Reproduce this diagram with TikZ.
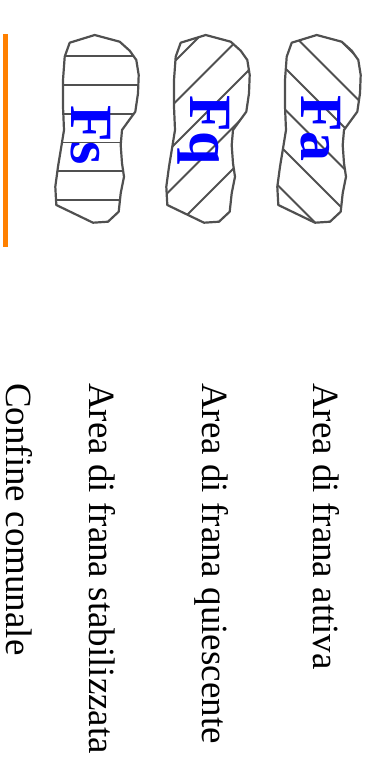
\documentclass[tikz,border=0pt]{standalone}
\usepackage{fontspec}
\setmainfont{Liberation Serif}
\usepackage{xcolor}
\definecolor{franaGray}{HTML}{505050}
\definecolor{franaBlue}{HTML}{0000FF}
\definecolor{confineOrange}{HTML}{FF8000}
% outline of one landslide symbol (the "Fa" one, others are shifted left)
\def\franapath{(291.7,42.7) -- (316.7,35) -- (341.7,41.7) -- (351.7,50.7) -- (358.3,60) -- (360.7,75) -- (360,93.3) -- (357.3,111.7) -- (350,121.7) -- (344,130) -- (342.7,145) -- (344,163.3) -- (346,176.7) -- (342.7,193.3) -- (340.7,211.7) -- (330,221.7) -- (315,222.7) -- (278.3,205) -- (277.3,186.7) -- (280,166.7) -- (283.3,146.7) -- (286,130) -- (285,106.7) -- (285,80) -- (286.7,56.7) -- cycle}

\begin{document}
\begin{tikzpicture}[x=1pt,y=-1pt]
\tikzstyle{blobline}=[draw=franaGray,line width=2.2pt,line join=round]
\tikzstyle{hatch}=[draw=franaGray,line width=1.8pt]
\tikzstyle{franalabel}=[rotate=-90,anchor=base west,inner sep=0pt,text=franaBlue,font=\fontsize{60}{60}\selectfont\bfseries]
\tikzstyle{legendtext}=[rotate=-90,anchor=base west,inner sep=0pt,font=\fontsize{37}{40}\selectfont]
\useasboundingbox (0,0) rectangle (386,766);
% attiva
\begin{scope}
  \clip \franapath;
  \foreach \c in {-300,-258.5,-217,-175.5,-134,-92.5} \draw[hatch] (250,{250+\c}) -- (400,{400+\c});
\end{scope}
\draw[blobline] \franapath;
% quiescente
\begin{scope}[xshift=-111pt]
  \begin{scope}
    \clip \franapath;
    \foreach \c in {347,388.5,430,471.5,513} \draw[hatch] (250,{\c-250}) -- (400,{\c-400});
  \end{scope}
  \draw[blobline] \franapath;
\end{scope}
% stabilizzata
\begin{scope}[xshift=-222pt]
  \begin{scope}
    \clip \franapath;
    \foreach \c in {56,84.8,113.6,142.4,171.2,200} \draw[hatch] (260,\c) -- (380,\c);
  \end{scope}
  \draw[blobline] \franapath;
\end{scope}
\node[franalabel] (fa) at (301.7,95) {Fa};
\node[franalabel] (fq) at (190,95) {Fq};
\node[franalabel] (fs) at (71.7,105) {Fs};
% confine comunale
\draw[draw=confineOrange,line width=5pt] (5.8,34) -- (5.8,246.7);
\node[legendtext] (attiva) at (313,383) {Area di frana attiva};
\node[legendtext] (quiescente) at (202,383) {Area di frana quiescente};
\node[legendtext] (stabilizzata) at (89,383) {Area di frana stabilizzata};
\node[legendtext] (confine) at (6,383) {Confine comunale};
\end{tikzpicture}
\end{document}
